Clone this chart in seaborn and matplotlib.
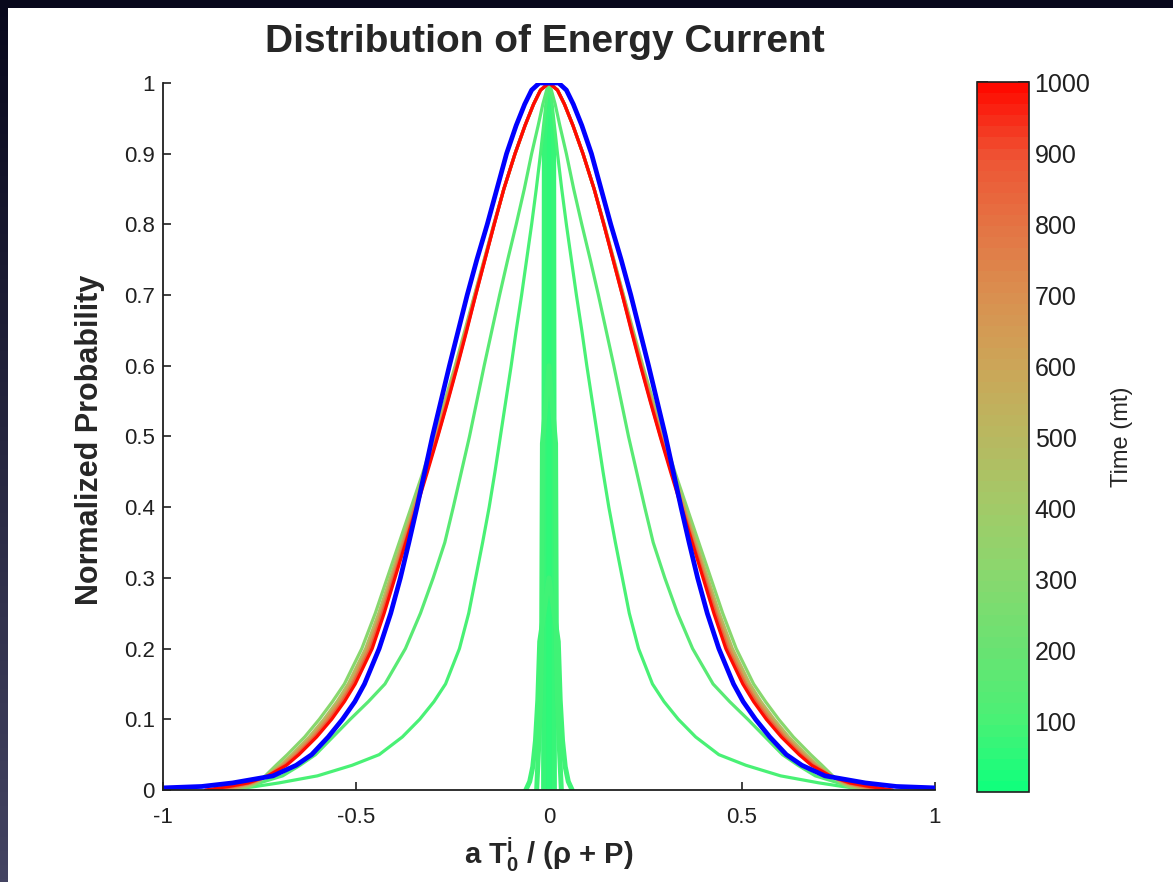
import numpy as np
import pandas as pd
import matplotlib
matplotlib.use("Agg")
import matplotlib.pyplot as plt
import seaborn as sns
from matplotlib.colors import LinearSegmentedColormap, Normalize
from matplotlib.cm import ScalarMappable
from matplotlib.patches import Rectangle

# ---------------- data ----------------
LEVELS = [0.0, 0.005, 0.01, 0.02, 0.035, 0.05, 0.075, 0.1, 0.125, 0.15, 0.2, 0.25,
          0.3, 0.35, 0.4, 0.45, 0.5, 0.55, 0.6, 0.65, 0.7, 0.75, 0.8, 0.85, 0.9,
          0.94, 0.97, 0.99, 1.0]

# half-widths (|x|) of each time curve at each probability level
WIDE_TIMES = [100, 150, 300, 500, 700, 850, 1000]
HW_100 = [0.83, 0.76, 0.70, 0.60, 0.51, 0.44, 0.38, 0.335, 0.298, 0.268, 0.232, 0.208,
          0.19, 0.172, 0.155, 0.14, 0.126, 0.112, 0.098, 0.085, 0.071, 0.058, 0.045,
          0.033, 0.022, 0.014, 0.008, 0.003, 0.0]
HW_150 = [0.82, 0.785, 0.75, 0.69, 0.645, 0.605, 0.56, 0.515, 0.468, 0.425, 0.372, 0.333,
          0.30, 0.27, 0.248, 0.227, 0.206, 0.187, 0.168, 0.148, 0.128, 0.107, 0.085,
          0.064, 0.045, 0.028, 0.016, 0.006, 0.0]
HW_300 = [0.81, 0.775, 0.755, 0.735, 0.707, 0.678, 0.633, 0.595, 0.561, 0.53, 0.485, 0.45,
          0.419, 0.388, 0.357, 0.326, 0.297, 0.27, 0.243, 0.218, 0.193, 0.168, 0.143,
          0.117, 0.088, 0.062, 0.04, 0.022, 0.0]
HW_500 = [0.834, 0.792, 0.762, 0.731, 0.696, 0.666, 0.621, 0.583, 0.549, 0.52, 0.475, 0.441,
          0.411, 0.381, 0.351, 0.322, 0.294, 0.267, 0.241, 0.216, 0.192, 0.167, 0.143,
          0.117, 0.088, 0.062, 0.04, 0.022, 0.0]
HW_700 = [0.854, 0.805, 0.769, 0.729, 0.69, 0.659, 0.613, 0.575, 0.541, 0.512, 0.468, 0.435,
          0.406, 0.377, 0.348, 0.319, 0.291, 0.265, 0.239, 0.215, 0.191, 0.167, 0.142,
          0.117, 0.088, 0.062, 0.04, 0.022, 0.0]
HW_850 = [0.874, 0.819, 0.775, 0.728, 0.684, 0.652, 0.607, 0.568, 0.535, 0.507, 0.462, 0.431,
          0.402, 0.373, 0.345, 0.317, 0.289, 0.263, 0.238, 0.214, 0.19, 0.166, 0.142,
          0.117, 0.088, 0.062, 0.04, 0.022, 0.0]
HW_1000 = [0.89, 0.83, 0.78, 0.728, 0.68, 0.648, 0.602, 0.563, 0.53, 0.502, 0.458, 0.427,
           0.399, 0.371, 0.343, 0.315, 0.288, 0.262, 0.237, 0.213, 0.19, 0.166, 0.142,
           0.117, 0.088, 0.062, 0.04, 0.022, 0.0]
WIDE_HW = [HW_100, HW_150, HW_300, HW_500, HW_700, HW_850, HW_1000]

# blue reference curve
BLUE_Y = [0.003, 0.005, 0.01, 0.02, 0.035, 0.05, 0.075, 0.1, 0.125, 0.15, 0.2, 0.25,
          0.3, 0.35, 0.4, 0.45, 0.5, 0.55, 0.6, 0.65, 0.7, 0.75, 0.8, 0.85, 0.9,
          0.94, 0.97, 0.99, 1.0]
BLUE_HW = [1.0, 0.90, 0.82, 0.715, 0.655, 0.615, 0.572, 0.535, 0.503, 0.478, 0.44, 0.41,
           0.385, 0.363, 0.342, 0.322, 0.302, 0.28, 0.258, 0.235, 0.212, 0.187, 0.16,
           0.135, 0.11, 0.085, 0.063, 0.045, 0.025]

# early, very narrow distributions
SPIKE_TIMES = [60, 70, 80, 90]
SPIKE_X = [
    [-0.006, -0.005, 0.0, 0.005, 0.006],
    [-0.014, -0.013, -0.012, 0.0, 0.012, 0.013, 0.014],
    [-0.032, -0.026, -0.022, -0.019, -0.017, 0.0, 0.017, 0.019, 0.022, 0.026, 0.032],
    [-0.06, -0.05, -0.042, -0.035, -0.029, -0.024, 0.0, 0.024, 0.029, 0.035, 0.042, 0.05, 0.06],
]
SPIKE_Y = [
    [0.0, 0.92, 1.0, 0.92, 0.0],
    [0.0, 0.49, 0.92, 1.0, 0.92, 0.49, 0.0],
    [0.0, 0.07, 0.127, 0.21, 0.49, 0.6, 0.49, 0.21, 0.127, 0.07, 0.0],
    [0.0, 0.012, 0.033, 0.07, 0.127, 0.21, 0.3, 0.21, 0.127, 0.07, 0.033, 0.012, 0.0],
]

X_TICKS = [-1, -0.5, 0, 0.5, 1]
X_TICK_LABELS = ["-1", "-0.5", "0", "0.5", "1"]
Y_TICKS = [0, 0.1, 0.2, 0.3, 0.4, 0.5, 0.6, 0.7, 0.8, 0.9, 1.0]
Y_TICK_LABELS = ["0", "0.1", "0.2", "0.3", "0.4", "0.5", "0.6", "0.7", "0.8", "0.9", "1"]
CBAR_TICKS = [100, 200, 300, 400, 500, 600, 700, 800, 900, 1000]
CBAR_RANGE = (1, 1000)
CMAP_STOPS = [0.0, 0.1, 0.2, 0.3, 0.4, 0.5, 0.6, 0.7, 0.8, 0.9, 1.0]
CMAP_COLORS = ["#12FF7C", "#4CF075", "#6AE272", "#88D86E", "#A2CA68", "#B8B860",
               "#CCA658", "#D99050", "#E47444", "#EE5434", "#FF0A00"]

TITLE = "Distribution of Energy Current"
XLABEL = r"a $\mathrm{T}^{\mathrm{i}}_{\mathrm{0}}$ / (ρ + P)"
YLABEL = "Normalized Probability"
CBAR_LABEL = "Time (mt)"

# ---------------- style ----------------
sns.set_style("ticks")
plt.rcParams['font.family'] = ['Liberation Sans', 'DejaVu Sans']
plt.rcParams['mathtext.fontset'] = 'custom'
plt.rcParams['mathtext.rm'] = 'Liberation Sans:bold'
plt.rcParams['mathtext.it'] = 'Liberation Sans:bold'
plt.rcParams['mathtext.bf'] = 'Liberation Sans:bold'

cmap = LinearSegmentedColormap.from_list("time", list(zip(CMAP_STOPS, CMAP_COLORS)), N=64)
norm = Normalize(*CBAR_RANGE)

W, H = 1173, 882
fig = plt.figure(figsize=(W / 100, H / 100), dpi=100)

# dark slide background with white panel
bg = fig.add_axes([0, 0, 1, 1], zorder=-10)
c_top = np.array([0x08, 0x08, 0x1c]) / 255
c_bot = np.array([0x44, 0x44, 0x62]) / 255
grad = c_top + np.linspace(0, 1, 256)[:, None, None] * (c_bot - c_top)
bg.imshow(grad, extent=[0, 1, 0, 1], aspect='auto', origin='upper')
bg.add_patch(Rectangle((8 / W, 0), 1 - 8 / W, 1 - 8 / H, transform=bg.transAxes,
                       facecolor='white', edgecolor='none'))
bg.set_xlim(0, 1)
bg.set_ylim(0, 1)
bg.axis('off')

ax = fig.add_axes([163 / W, 1 - 790 / H, (935 - 163) / W, (790 - 83) / H])
ax.set_facecolor('none')
cax = fig.add_axes([977 / W, 1 - 792 / H, (1029 - 977) / W, (792 - 82) / H])


def curve_frame(levels, hw):
    lv = np.asarray(levels, float)
    w = np.asarray(hw, float)
    x = np.concatenate([-w, w[::-1]])
    y = np.concatenate([lv, lv[::-1]])
    return pd.DataFrame({"x": x, "y": y})


# spikes first (earliest times)
for t, xs, ys in zip(SPIKE_TIMES, SPIKE_X, SPIKE_Y):
    d = pd.DataFrame({"x": xs, "y": ys})
    sns.lineplot(data=d, x="x", y="y", ax=ax, color=cmap(norm(t)), lw=3.6,
                 sort=False, estimator=None)

for t, hw in zip(WIDE_TIMES, WIDE_HW):
    d = curve_frame(LEVELS, hw)
    sns.lineplot(data=d, x="x", y="y", ax=ax, color=cmap(norm(t)), lw=2.3,
                 sort=False, estimator=None)

d = curve_frame(BLUE_Y, BLUE_HW)
sns.lineplot(data=d, x="x", y="y", ax=ax, color="#0000FF", lw=3.4,
             sort=False, estimator=None)

ax.set_xlim(-1, 1)
ax.set_ylim(0, 1)
ax.set_xticks(X_TICKS)
ax.set_xticklabels(X_TICK_LABELS)
ax.set_yticks(Y_TICKS)
ax.set_yticklabels(Y_TICK_LABELS)
for s in ["top", "right"]:
    ax.spines[s].set_visible(False)
for s in ["left", "bottom"]:
    ax.spines[s].set_linewidth(1.3)
    ax.spines[s].set_color("#202020")
ax.tick_params(axis='both', direction='in', length=6, width=1.2, labelsize=16,
               colors="#202020")
ax.tick_params(axis='x', pad=12)
ax.tick_params(axis='y', pad=6)

ax.set_xlabel(XLABEL, fontsize=21, fontweight='bold', va='center')
ax.xaxis.set_label_coords(0.5, -0.092)
ax.set_ylabel(YLABEL, fontsize=22, fontweight='bold', va='center')
ax.yaxis.set_label_coords(-0.0946, 0.495)

fig.text(545 / W, 1 - 42 / H, TITLE, fontsize=28, fontweight='bold',
         ha='center', va='center')

sm = ScalarMappable(norm=norm, cmap=cmap)
cb = fig.colorbar(sm, cax=cax, ticks=CBAR_TICKS)
cb.outline.set_linewidth(1.2)
cb.outline.set_edgecolor("#202020")
cax.tick_params(direction='in', length=8, width=1.2, labelsize=18, left=True,
                right=True, pad=4, colors="#202020")
cb.set_label(CBAR_LABEL, fontsize=17, rotation=90, va='center')
cax.yaxis.set_label_coords((1122 - 977) / 52, 0.5)

fig.savefig("out.png", dpi=100)
